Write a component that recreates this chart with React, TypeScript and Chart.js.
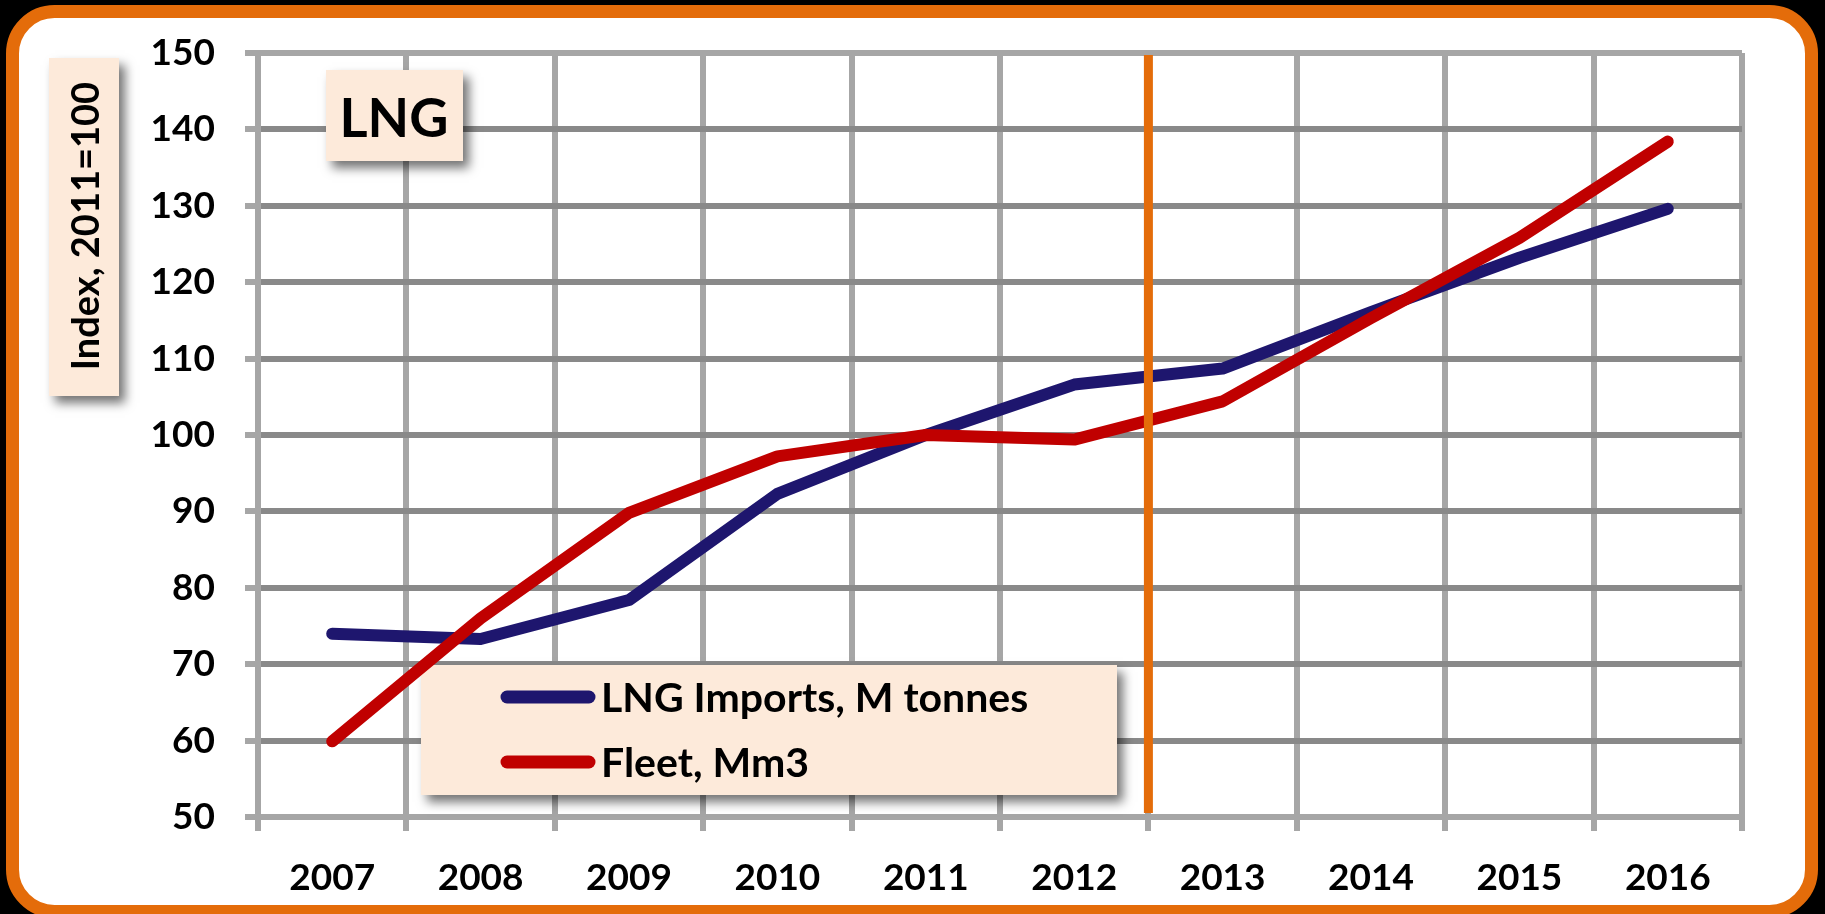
import React, { useEffect, useRef } from 'react';
import { Chart, registerables } from 'chart.js';

Chart.register(...registerables);

// ---- data ----
const years = ['2007', '2008', '2009', '2010', '2011', '2012', '2013', '2014', '2015', '2016'];
const lngImports = [74.0, 73.3, 78.4, 92.3, 100.0, 106.6, 108.7, 116.1, 123.2, 129.6];
const fleet = [59.9, 76.0, 89.8, 97.2, 100.0, 99.4, 104.4, 115.3, 125.8, 138.4];
const seriesLabels = ['LNG Imports, M tonnes', 'Fleet, Mm3'];
const yMin = 50;
const yMax = 150;
const yStep = 10;
const chartTitle = 'LNG';
const yAxisTitle = 'Index, 2011=100';
const dividerAfterIndex = 5; // divider between 2012 and 2013

// ---- style ----
const FONT = 'Lato';
const PEACH = '#FDEADA';
const ORANGE = '#E46C0A';
const GRID_LIGHT = '#A6A6A6';
const GRID_DARK = '#898989';
const BLUE = '#1E166E';
const RED = '#C00000';

function shadowBox(ctx: CanvasRenderingContext2D, x: number, y: number, w: number, h: number) {
  ctx.save();
  ctx.shadowColor = 'rgba(0,0,0,0.55)';
  ctx.shadowBlur = 10;
  ctx.shadowOffsetX = 6;
  ctx.shadowOffsetY = 7;
  ctx.fillStyle = PEACH;
  ctx.fillRect(x, y, w, h);
  ctx.restore();
}

const framePlugin = {
  id: 'frame',
  beforeDraw(chart: any) {
    const ctx: CanvasRenderingContext2D = chart.ctx;
    ctx.save();
    ctx.fillStyle = '#000';
    ctx.fillRect(0, 0, chart.width, chart.height);
    ctx.beginPath();
    (ctx as any).roundRect(12.5, 11.5, 1799, 900, 42);
    ctx.fillStyle = '#fff';
    ctx.fill();
    ctx.lineWidth = 13;
    ctx.strokeStyle = ORANGE;
    ctx.stroke();
    ctx.restore();
  },
};

const boxesPlugin = {
  id: 'boxes',
  beforeDatasetsDraw(chart: any) {
    const ctx: CanvasRenderingContext2D = chart.ctx;
    // Y axis title box
    shadowBox(ctx, 49, 58, 70, 338);
    ctx.save();
    ctx.fillStyle = '#000';
    ctx.font = `bold 38px ${FONT}`;
    ctx.textAlign = 'center';
    ctx.textBaseline = 'alphabetic';
    ctx.translate(99, 226);
    ctx.rotate(-Math.PI / 2);
    ctx.fillText(yAxisTitle, 0, 0);
    ctx.restore();

    // Title box
    shadowBox(ctx, 326, 70, 137, 91);
    ctx.save();
    ctx.fillStyle = '#000';
    ctx.font = `bold 54px ${FONT}`;
    ctx.textAlign = 'center';
    ctx.textBaseline = 'alphabetic';
    ctx.fillText(chartTitle, 394, 137);
    ctx.restore();

    // Legend box
    shadowBox(ctx, 421, 665, 696, 130);
    chart.data.datasets.forEach((ds: any, i: number) => {
      const ly = 697 + i * 65;
      ctx.save();
      ctx.strokeStyle = ds.borderColor;
      ctx.lineWidth = 13;
      ctx.lineCap = 'round';
      ctx.beginPath();
      ctx.moveTo(507, ly);
      ctx.lineTo(589, ly);
      ctx.stroke();
      ctx.fillStyle = '#000';
      ctx.font = `bold 41px ${FONT}`;
      ctx.textAlign = 'left';
      ctx.textBaseline = 'alphabetic';
      ctx.fillText(ds.label, 601, ly + 15);
      ctx.restore();
    });
  },
};

const dividerPlugin = {
  id: 'divider',
  afterDatasetsDraw(chart: any) {
    const ctx: CanvasRenderingContext2D = chart.ctx;
    const xs = chart.scales.x;
    const area = chart.chartArea;
    const x = (xs.getPixelForValue(dividerAfterIndex) + xs.getPixelForValue(dividerAfterIndex + 1)) / 2;
    ctx.save();
    ctx.strokeStyle = ORANGE;
    ctx.lineWidth = 9;
    ctx.beginPath();
    ctx.moveTo(x, area.top + 2);
    ctx.lineTo(x, area.bottom - 4);
    ctx.stroke();
    ctx.restore();
  },
};

export default function App() {
  const ref = useRef<HTMLCanvasElement | null>(null);

  useEffect(() => {
    document.body.style.margin = '0';
    if (!ref.current) return;
    const chart = new Chart(ref.current, {
      type: 'line',
      data: {
        labels: years,
        datasets: [
          {
            label: seriesLabels[0],
            data: lngImports,
            borderColor: BLUE,
            backgroundColor: BLUE,
            borderWidth: 12,
            pointRadius: 0,
            tension: 0,
            borderCapStyle: 'round',
            borderJoinStyle: 'round',
            order: 1,
          },
          {
            label: seriesLabels[1],
            data: fleet,
            borderColor: RED,
            backgroundColor: RED,
            borderWidth: 12,
            pointRadius: 0,
            tension: 0,
            borderCapStyle: 'round',
            borderJoinStyle: 'round',
            order: 0,
          },
        ],
      },
      options: {
        responsive: false,
        animation: false,
        devicePixelRatio: 1,
        layout: { padding: { left: 0, top: 53, right: 83, bottom: 0 } },
        plugins: {
          legend: { display: false },
          title: { display: false },
          tooltip: { enabled: false },
        },
        scales: {
          x: {
            offset: true,
            grid: {
              offset: true,
              color: GRID_LIGHT,
              tickColor: GRID_LIGHT,
              lineWidth: 6,
              tickLength: 14,
            },
            border: { display: true, color: GRID_LIGHT, width: 6 },
            ticks: {
              color: '#000',
              font: { family: FONT, size: 37, weight: 'bold' },
              padding: 25,
              maxRotation: 0,
              autoSkip: false,
            },
            afterFit: (s: any) => {
              s.height = 97;
            },
          },
          y: {
            min: yMin,
            max: yMax,
            grid: {
              color: (c: any) =>
                c.tick && (c.tick.value === yMin || c.tick.value === yMax) ? GRID_LIGHT : GRID_DARK,
              tickColor: GRID_LIGHT,
              lineWidth: 6,
              tickLength: 13,
            },
            border: { display: true, color: GRID_LIGHT, width: 6 },
            ticks: {
              stepSize: yStep,
              color: '#000',
              font: { family: FONT, size: 37, weight: 'bold' },
              padding: 30,
            },
            afterFit: (s: any) => {
              s.width = 258;
            },
          },
        },
      } as any,
      plugins: [framePlugin, boxesPlugin, dividerPlugin],
    });
    return () => chart.destroy();
  }, []);

  return (
    <div style={{ width: 1825, height: 914 }}>
      <canvas ref={ref} width={1825} height={914} style={{ display: 'block' }} />
    </div>
  );
}
